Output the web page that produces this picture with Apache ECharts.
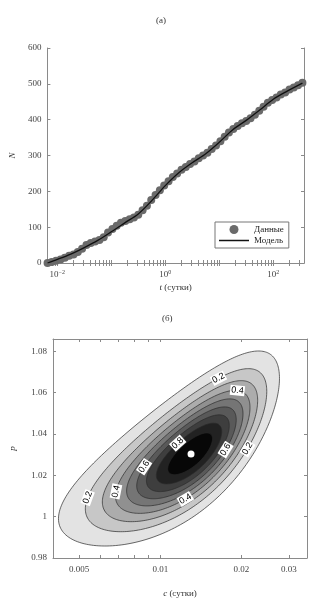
<!DOCTYPE html>
<html><head><meta charset="utf-8">
<script src="https://cdn.jsdelivr.net/npm/echarts@6/dist/echarts.min.js"></script>
<style>html,body{margin:0;padding:0;background:#fff}#c{width:329px;height:600px}</style>
</head><body><div id="c"></div>
<script>
// ---------- Panel (а): N vs t ----------
const tData = [0.0066,0.0079,0.0095,0.0115,0.0138,0.0166,0.02,0.024,0.0288,0.0347,0.0417,0.0501,0.0603,0.0724,0.0871,0.105,0.126,0.151,0.182,0.219,0.263,0.316,0.38,0.457,0.55,0.661,0.794,0.955,1.15,1.38,1.66,2.0,2.4,2.88,3.47,4.17,5.01,6.03,7.24,8.71,10.5,12.6,15.1,18.2,21.9,26.3,31.6,38,45.7,55,66.1,79.4,95.5,115,138,166,200,240,288,347];
const nData = [0,3,6,10,15,20,24,31,40,50,56,60,64,72,85,95,104,112,117,122,127,135,147,160,176,190,203,216,228,240,250,260,268,276,283,292,300,308,318,328,340,352,364,374,382,390,396,404,414,425,436,447,455,462,470,476,484,490,496,503];
const tModel = [0.0066,0.01,0.0178,0.0316,0.0562,0.1,0.178,0.316,0.562,1,1.78,3.16,5.62,10,17.8,31.6,56.2,100,178,347];
const nModel = [0,10,25,43,63,87,112,137,174,216,252,280,305,337,372,398,427,457,479,502];
const tLabelsA = [0.01,1,100];

// ---------- Panel (б): likelihood contours in (c, p) ----------
const contourLevels = [0.1,0.2,0.3,0.4,0.5,0.6,0.7,0.8,0.9];
const peakCP = [0.0130,1.0303];          // white dot (maximum)
const outerCenterCP = [0.01335,1.0330];  // centre of outermost (0.1) contour
const outerHalfSqrtC = 0.0508;           // half-extent of 0.1 contour in sqrt(c)
const outerHalfP = 0.0472;               // half-extent of 0.1 contour in p
const outerCorr = 0.72;                  // tilt of contours
const labelLevels = [0.2,0.4,0.8,0.6,0.2,0.6,0.4,0.2,0.4];
const labelC = [0.01669,0.01935,0.01151,0.01812,0.02137,0.00884,0.00719,0.00552,0.0125];
const labelP = [1.0662,1.0618,1.0357,1.0313,1.0323,1.0236,1.0115,1.0090,1.0071];
const cLabelsB = [0.005,0.01,0.02,0.03];
const cTicksB = [0.004,0.005,0.006,0.007,0.008,0.009,0.01,0.02,0.03];

// ---------- helpers ----------
function ellipseFor(L){
  const s = Math.sqrt(Math.log(L)/Math.log(0.1));
  const k = s*s;
  const w0 = Math.sqrt(peakCP[0]), w1 = Math.sqrt(outerCenterCP[0]);
  const wc = w0 + (w1-w0)*k;
  const pc = peakCP[1] + (outerCenterCP[1]-peakCP[1])*k;
  const sw = outerHalfSqrtC*s, sp = outerHalfP*s;
  const q = Math.sqrt(1-outerCorr*outerCorr);
  const pts = [];
  const N = 240;
  for (let i=0;i<N;i++){
    const t = i/N*2*Math.PI;
    const w = wc + sw*Math.cos(t);
    pts.push([w*w, pc + sp*(outerCorr*Math.cos(t) + q*Math.sin(t))]);
  }
  return pts;
}
function grayFill(i){
  const g = Math.round(255*(0.89 - i*0.108));
  return 'rgb('+g+','+g+','+g+')';
}
function decadeTicks(lo, hi){
  const out=[];
  for(let e=-3;e<=3;e++){ for(let m=1;m<=9;m++){ const v=+(m*Math.pow(10,e)).toPrecision(3); if(v>=lo&&v<=hi) out.push(v);} }
  return out;
}
const tMin = 0.00656, tMax = 371;
const tTicksA = decadeTicks(tMin, tMax);

const serif = 'Liberation Serif';
const axisGray = '#8a8a8a';
const labelGray = '#444';

const chart = echarts.init(document.getElementById('c'), null, {renderer:'canvas'});

const baseAxis = {
  axisLine:{show:true, lineStyle:{color:axisGray, width:1}},
  splitLine:{show:false},
  axisTick:{show:true, inside:true, length:3, lineStyle:{color:axisGray}},
  axisLabel:{color:labelGray, fontFamily:serif, fontSize:9}
};
function ax(extra){ return echarts.util.merge(echarts.util.clone(baseAxis), extra, true); }

const option = {
  animation:false,
  backgroundColor:'#fff',
  title:[
    {text:'(а)', left:151, top:11, textStyle:{fontFamily:serif, fontSize:9, fontWeight:'normal', color:'#333'}},
    {text:'(б)', left:157, top:309, textStyle:{fontFamily:serif, fontSize:9, fontWeight:'normal', color:'#333'}}
  ],
  grid:[
    {left:45, top:48, width:259, height:215},
    {left:44, top:339, width:263, height:219}
  ],
  legend:{
    left:215, top:222, orient:'vertical',
    backgroundColor:'#fff', borderColor:'#777', borderWidth:1,
    padding:[3,5,3,4], itemGap:2, itemWidth:30, itemHeight:9,
    textStyle:{fontFamily:serif, fontSize:9, color:'#222'},
    data:[{name:'Данные', icon:'circle'}, {name:'Модель', icon:'path://M0,0H30V1.5H0Z'}]
  },
  xAxis:[
    ax({gridIndex:0, type:'log', logBase:10, min:tMin, max:tMax, position:'bottom',
      axisTick:{customValues:tTicksA},
      axisLabel:{customValues:tLabelsA, margin:6,
        formatter:function(v){ const e=Math.round(Math.log10(v)); return '{b|10}{s|'+(e<0?'−':'')+Math.abs(e)+'}'; },
        rich:{b:{fontFamily:serif,fontSize:9,color:labelGray}, s:{fontFamily:serif,fontSize:6,color:labelGray,verticalAlign:'top',padding:[0,0,6,0]}}},
      name:'{i|t} (сутки)', nameLocation:'middle', nameGap:20,
      nameTextStyle:{fontFamily:serif, fontSize:9, color:'#333', rich:{i:{fontFamily:serif,fontSize:9,fontStyle:'italic',color:'#333'}}}}),
    ax({gridIndex:0, type:'log', logBase:10, min:tMin, max:tMax, position:'top',
      axisTick:{customValues:tTicksA}, axisLabel:{show:false}}),
    ax({gridIndex:1, type:'log', logBase:10, min:0.004, max:0.035, position:'bottom',
      axisTick:{customValues:cTicksB},
      axisLabel:{customValues:cLabelsB, margin:7, formatter:function(v){return String(v);}},
      name:'{i|c} (сутки)', nameLocation:'middle', nameGap:31,
      nameTextStyle:{fontFamily:serif, fontSize:9, color:'#333', rich:{i:{fontFamily:serif,fontSize:9,fontStyle:'italic',color:'#333'}}}}),
    ax({gridIndex:1, type:'log', logBase:10, min:0.004, max:0.035, position:'top',
      axisTick:{customValues:cTicksB}, axisLabel:{show:false}})
  ],
  yAxis:[
    ax({gridIndex:0, type:'value', min:0, max:600, interval:100, position:'left',
      axisLabel:{margin:6},
      name:'N', nameLocation:'middle', nameGap:30, nameRotate:90,
      nameTextStyle:{fontFamily:serif, fontSize:9, fontStyle:'italic', color:'#333'}}),
    ax({gridIndex:0, type:'value', min:0, max:600, interval:100, position:'right', axisLabel:{show:false}}),
    ax({gridIndex:1, type:'value', min:0.98, max:1.086, interval:0.02, position:'left',
      axisLabel:{margin:6, showMaxLabel:false, formatter:function(v){return String(+(+v).toFixed(2));}},
      name:'p', nameLocation:'middle', nameGap:36, nameRotate:90,
      nameTextStyle:{fontFamily:serif, fontSize:9, fontStyle:'italic', color:'#333'}}),
    ax({gridIndex:1, type:'value', min:0.98, max:1.086, interval:0.02, position:'right', axisLabel:{show:false}})
  ],
  series:[
    {name:'Данные', type:'scatter', xAxisIndex:0, yAxisIndex:0,
      data:tData.map((t,i)=>[t,nData[i]]), symbolSize:8,
      itemStyle:{color:'#6a6a6a', opacity:1}},
    {name:'Модель', type:'line', xAxisIndex:0, yAxisIndex:0,
      data:tModel.map((t,i)=>[t,nModel[i]]), smooth:0.3, symbol:'none',
      lineStyle:{color:'#111', width:1.3}, itemStyle:{color:'#111'}},
    {name:'contours', type:'custom', xAxisIndex:2, yAxisIndex:2,
      data:contourLevels.map((L,i)=>[peakCP[0],peakCP[1],i]),
      encode:{x:0,y:1},
      renderItem:function(params, api){
        const i = api.value(2);
        const pts = ellipseFor(contourLevels[i]).map(d=>api.coord(d));
        return {type:'polygon', shape:{points:pts}, style:{fill:grayFill(i), stroke:'#2a2a2a', lineWidth:0.7}};
      }},
    {name:'labels', type:'custom', xAxisIndex:2, yAxisIndex:2,
      data:labelLevels.map((L,i)=>[labelC[i],labelP[i],i]),
      encode:{x:0,y:1}, z:5,
      renderItem:function(params, api){
        const j = api.value(2);
        const L = labelLevels[j];
        const target = api.coord([labelC[j], labelP[j]]);
        const pts = ellipseFor(L).map(d=>api.coord(d));
        let best=0, bd=1e9;
        pts.forEach((q,k)=>{const d=(q[0]-target[0])**2+(q[1]-target[1])**2; if(d<bd){bd=d;best=k;}});
        const n = pts.length;
        const a = pts[(best-2+n)%n], b = pts[(best+2)%n];
        let ang = Math.atan2(b[1]-a[1], b[0]-a[0]);
        if (ang > Math.PI/2) ang -= Math.PI;
        if (ang < -Math.PI/2) ang += Math.PI;
        return {type:'text', x:pts[best][0], y:pts[best][1], rotation:-ang,
          style:{text:String(L), fill:'#000', fontFamily:'Liberation Sans', fontSize:9,
            align:'center', verticalAlign:'middle', backgroundColor:'#fff', padding:[1,1,0,1]}};
      }},
    {name:'peak', type:'scatter', xAxisIndex:2, yAxisIndex:2,
      data:[peakCP], symbolSize:7, z:6, itemStyle:{color:'#fff', opacity:1}}
  ]
};
chart.setOption(option);
</script>
</body></html>
